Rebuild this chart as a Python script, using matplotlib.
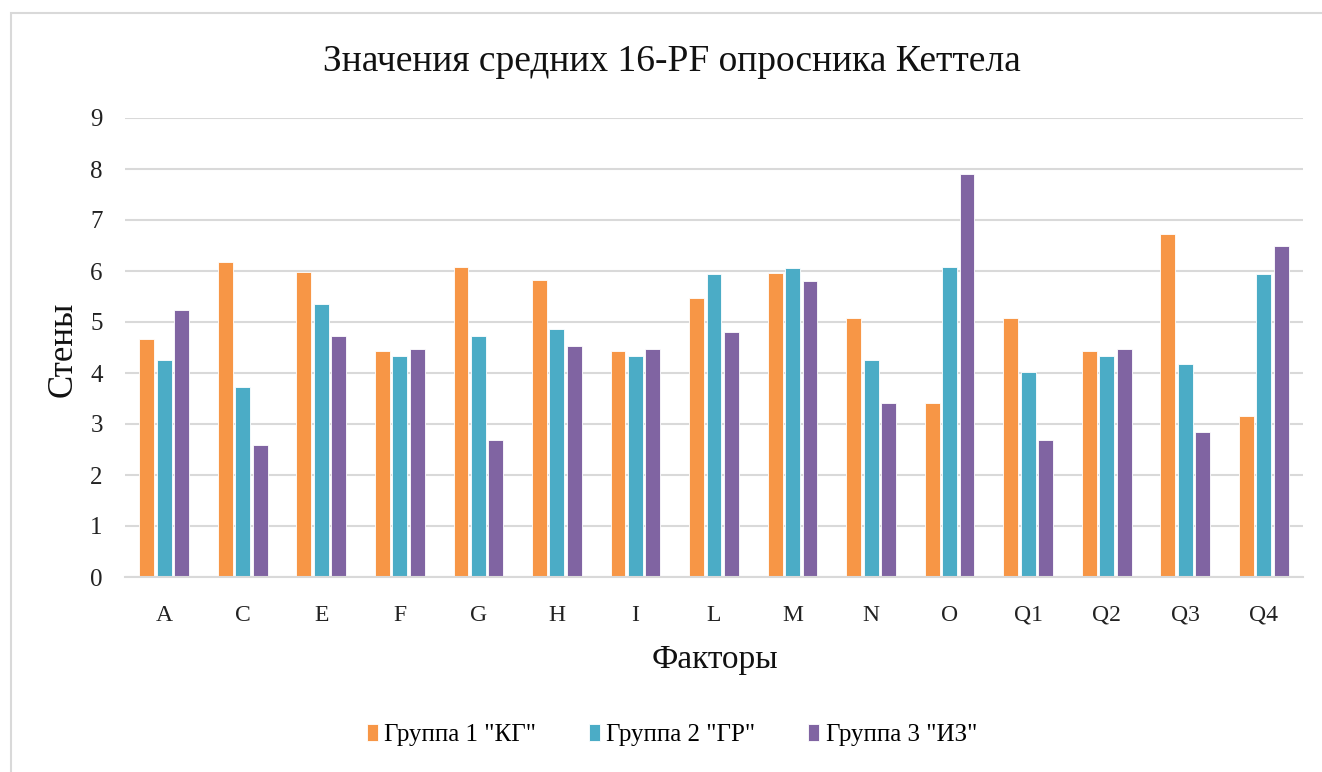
import matplotlib
matplotlib.use("Agg")
import matplotlib.pyplot as plt
import numpy as np
from matplotlib.patches import Rectangle

categories = ["A", "C", "E", "F", "G", "H", "I", "L", "M", "N", "O", "Q1", "Q2", "Q3", "Q4"]
group1 = [4.67, 6.18, 5.99, 4.43, 6.07, 5.83, 4.43, 5.48, 5.97, 5.07, 3.42, 5.07, 4.43, 6.73, 3.15]
group2 = [4.26, 3.73, 5.35, 4.34, 4.73, 4.86, 4.34, 5.94, 6.05, 4.26, 6.07, 4.02, 4.34, 4.18, 5.94]
group3 = [5.24, 2.59, 4.73, 4.48, 2.69, 4.53, 4.48, 4.80, 5.80, 3.42, 7.91, 2.69, 4.48, 2.85, 6.50]
series_names = ['Группа 1 "КГ"', 'Группа 2 "ГР"', 'Группа 3 "ИЗ"']
colors = ["#F79646", "#4BACC6", "#8064A2"]

W, H = 1322, 772
plt.rcParams['font.family'] = ['Liberation Serif', 'DejaVu Serif']
fig = plt.figure(figsize=(W / 100, H / 100), dpi=100)

# chart frame
fig.patches.append(Rectangle((11 / W, -0.1), 1.2, 1.1 - 13 / H, transform=fig.transFigure,
                             fill=False, edgecolor="#d9d9d9", linewidth=1.5, zorder=0))

left, right = 125 / W, 1303 / W
bottom, top = 1 - 577 / H, 1 - 118 / H
ax = fig.add_axes([left, bottom, right - left, top - bottom])

x = np.arange(len(categories))
pitch = 0.222
bw = 0.19
for i, (vals, name, c) in enumerate(zip([group1, group2, group3], series_names, colors)):
    ax.bar(x + (i - 1) * pitch, vals, width=bw, color=c, edgecolor="white", linewidth=0.6,
           label=name, zorder=3)

ax.set_xlim(-0.5, len(categories) - 0.5)
ax.set_ylim(0, 9)
ax.set_yticks(range(0, 10))
ax.set_xticks(x)
ax.set_xticklabels(categories)
ax.grid(axis="y", color="#d9d9d9", linewidth=1.5, zorder=0)
for s in ["top", "right", "left"]:
    ax.spines[s].set_visible(False)
ax.spines["bottom"].set_color("#d9d9d9")
ax.spines["bottom"].set_linewidth(1.5)
ax.spines["bottom"].set_zorder(4)
ax.tick_params(axis="both", length=0, colors="#222222")
ax.tick_params(axis="x", labelsize=17, pad=20)
ax.tick_params(axis="y", labelsize=18, pad=16)

fig.text(672 / W, 1 - 62 / H, "Значения средних 16-PF опросника Кеттела", ha="center", va="center",
         fontsize=27, color="#111111")
fig.text(715 / W, 1 - 660 / H, "Факторы", ha="center", va="center", fontsize=24, color="#111111")
fig.text(63 / W, 1 - 349 / H, "Стены", ha="center", va="center", rotation=90, fontsize=25, color="#111111")

fig.legend(loc="center", bbox_to_anchor=(672 / W, 1 - 735 / H), ncol=3, frameon=False,
           fontsize=18, handlelength=0.45, handleheight=0.7, handletextpad=0.25, columnspacing=2.1)

fig.savefig("out.png", dpi=100, facecolor="white")
